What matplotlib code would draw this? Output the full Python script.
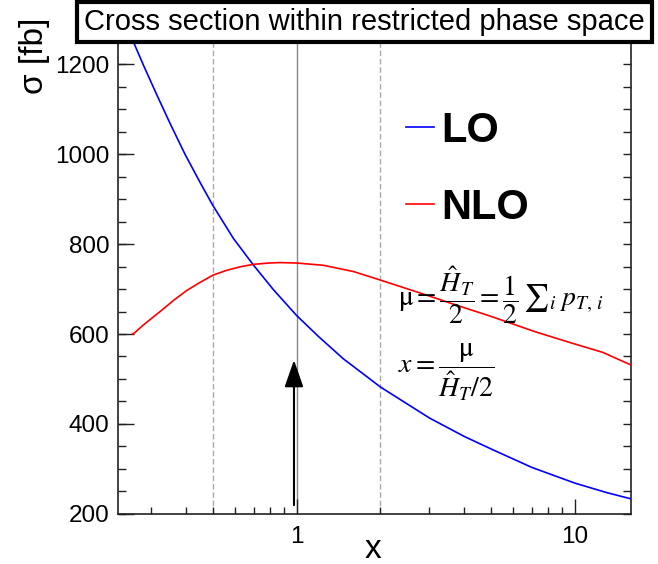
import matplotlib
matplotlib.use("Agg")
import matplotlib.pyplot as plt
from matplotlib.patches import Rectangle
from matplotlib.lines import Line2D
from matplotlib.ticker import MultipleLocator, LogLocator, FuncFormatter, NullFormatter

plt.rcParams["font.family"] = ["Liberation Sans", "DejaVu Sans"]
plt.rcParams["mathtext.fontset"] = "stix"

# scale factor x = mu / (H_T/2) and cross sections in fb
lo_x = [0.257, 0.283, 0.314, 0.35, 0.397, 0.45, 0.5, 0.592, 0.698, 0.824,
        1.0, 1.2, 1.47, 2.0, 3.0, 4.0, 5.0, 7.0, 10.0, 13.0, 15.9]
lo_sigma = [1255, 1195, 1133, 1070, 1000, 937, 886, 813, 754, 699,
            641, 594, 545, 482, 413, 372, 344, 303, 268, 247, 233]

nlo_x = [0.257, 0.262, 0.281, 0.323, 0.363, 0.403, 0.447, 0.5, 0.562, 0.631, 0.698, 0.794,
         0.871, 1.0, 1.246, 1.6, 2.0, 2.85, 3.76, 4.95, 7.28, 9.6, 12.6, 15.9]
nlo_sigma = [600, 603, 620, 650, 676, 697, 714, 731, 742, 750, 755, 758,
             759, 758, 753, 739, 720, 689, 664, 640, 604, 581, 559, 531]

scale_lines = [0.5, 2.0]     # variation band edges
central_scale = 1.0
arrow_x = 0.978
arrow_from, arrow_to = 219, 542

W, H = 658, 564
fig = plt.figure(figsize=(W / 100, H / 100), dpi=100)
ax = fig.add_axes([118 / W, 1 - 513.7 / H, (631 - 118) / W, (513.7 - 42) / H])

ax.set_xscale("log")
ax.set_xlim(0.228, 15.9)
ax.set_ylim(200, 1250)

for xv in scale_lines:
    ax.axvline(xv, color="#aaaaaa", lw=1.0, ls=(0, (4, 2)), zorder=1)
ax.axvline(central_scale, color="#888888", lw=1.0, zorder=1)

ax.plot(lo_x, lo_sigma, color="#0000ff", lw=1.2, zorder=3)
ax.plot(nlo_x, nlo_sigma, color="#ff0000", lw=1.2, zorder=3)

ax.annotate("", xy=(arrow_x, arrow_to), xytext=(arrow_x, arrow_from),
            arrowprops=dict(arrowstyle="-|>,head_length=0.83,head_width=0.29",
                            mutation_scale=20, color="black", lw=1.5,
                            shrinkA=0, shrinkB=0), zorder=4)

# axes styling: ticks inside, right side gets short ticks only
for side in ["left", "bottom", "right"]:
    ax.spines[side].set_color("#222222")
    ax.spines[side].set_linewidth(1.2)
ax.spines["top"].set_visible(False)

ax.yaxis.set_major_locator(MultipleLocator(200))
ax.yaxis.set_minor_locator(MultipleLocator(50))
ax.yaxis.remove_overlapping_locs = False
ax.xaxis.set_major_locator(LogLocator(base=10))
ax.xaxis.set_minor_locator(LogLocator(base=10, subs=range(2, 10)))
ax.xaxis.set_major_formatter(FuncFormatter(lambda v, _: f"{v:g}"))
ax.xaxis.set_minor_formatter(NullFormatter())

ax.tick_params(axis="both", which="both", direction="in", color="#222222",
               labelsize=17.5, width=1.0)
ax.tick_params(axis="y", which="major", length=11.5, pad=6, right=False)
ax.tick_params(axis="y", which="minor", length=5.5, left=True, right=True)
ax.tick_params(axis="x", which="major", length=11, pad=9, top=False)
ax.tick_params(axis="x", which="minor", length=5, top=False)

fig.text(35 / W, 1 - 18 / H, "σ [fb]", rotation=90, ha="center", va="top", fontsize=24)
fig.text(373 / W, 1 - 549 / H, "x", ha="center", va="center", fontsize=24)

# title box
fig.add_artist(Rectangle((77 / W, 1 - 42 / H), 575 / W, 40 / H, transform=fig.transFigure,
                         facecolor="white", edgecolor="black", lw=3, zorder=10))
fig.text(364 / W, 1 - 22 / H, "Cross section within restricted phase space",
         ha="center", va="center", fontsize=21, zorder=11)

handles = [Line2D([], [], color="#0000ff", lw=1.2), Line2D([], [], color="#ff0000", lw=1.2)]
ax.legend(handles, ["LO", "NLO"], loc="upper left", bbox_to_anchor=(405.7 / W, 1 - 111 / H),
          bbox_transform=fig.transFigure, frameon=False, borderpad=0, borderaxespad=0,
          prop={"size": 30, "weight": "bold"}, handlelength=0.68, handletextpad=0.18,
          labelspacing=0.89)

fig.text(398 / W, 1 - 295.7 / H,
         r"$\mathrm{\mu} = \dfrac{\hat{H}_T}{2} = \dfrac{1}{2}\,{\sum}_i\; p_{T,\,i}$",
         ha="left", va="center", fontsize=20)
fig.text(398 / W, 1 - 372 / H, r"$x = \dfrac{\mathrm{\mu}}{\hat{H}_T/2}$",
         ha="left", va="center", fontsize=20)

fig.savefig("out.png", dpi=100)
